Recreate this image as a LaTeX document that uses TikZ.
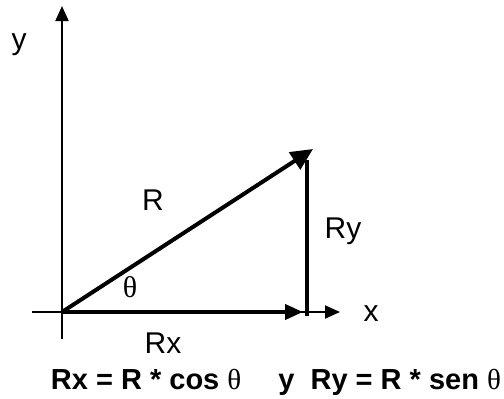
\documentclass[tikz,border=0pt]{standalone}
\usepackage{fontspec}
\setmainfont{Liberation Sans}
\newfontfamily\greekfam{Liberation Serif}
\usepackage{tikz}
\usetikzlibrary{arrows.meta,positioning}
\definecolor{ink}{HTML}{000000}
\newcommand{\lbl}{\fontsize{15}{18}\selectfont}
\newcommand{\eqn}{\fontsize{14.5}{17}\selectfont\bfseries}
\newcommand{\thet}{{\greekfam\fontseries{m}\selectfont θ}}

\begin{document}
\begin{tikzpicture}[x=0.5pt, y=-0.5pt,
  axis/.style={ink, line width=1pt, -{Triangle[length=7.5pt, width=6.5pt]}},
  vec/.style={ink, line width=2pt, -{Triangle[length=9pt, width=7.5pt]}},
  txt/.style={font=\lbl, text=ink, inner sep=0pt}]
  \useasboundingbox (0,0) rectangle (504,398);
  \coordinate (O) at (62,312);
  \coordinate (ytop) at (62,6);
  \coordinate (ybot) at (62,339);
  \coordinate (xleft) at (32,312);
  \coordinate (xtip) at (340,312);
  \coordinate (rxtip) at (303,312);
  \coordinate (ryfoot) at (307,316);
  \coordinate (rytop) at (307,160);
  \coordinate (rtip) at (313,149);
  % axes
  \draw[axis] (ybot) -- (ytop);
  \draw[axis] (xleft) -- (xtip);
  % components
  \draw[ink, line width=2pt] (ryfoot) -- (rytop);
  \draw[vec] (O) -- (rxtip);
  \draw[vec, -{Triangle[length=11pt, width=10pt]}] (O) -- (rtip);
  % labels
  \node[txt] (ylab) at (19,45) {y};
  \node[txt] (xlab) at (371,314) {x};
  \node[txt] (rlab) at (153,200) {R};
  \node[txt] (rylab) at (343,231) {Ry};
  \node[txt] (rxlab) at (163,343) {Rx};
  \node[txt] (thlab) at (130,287) {\thet};
  \node[txt, font=\eqn] (eq) at (276,382)
    {Rx = R * cos \thet\quad\ y\ \ Ry = R * sen \thet};
\end{tikzpicture}
\end{document}
